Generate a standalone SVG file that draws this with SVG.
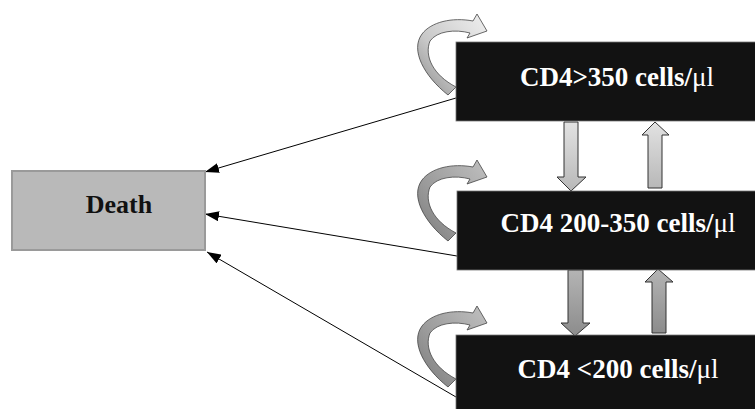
<svg xmlns="http://www.w3.org/2000/svg" width="755" height="409" viewBox="0 0 755 409">
<defs>
<style>
.box{fill:#121212;stroke:#777;stroke-width:0.8}
.death{fill:#b9b9b9;stroke:#9a9a9a;stroke-width:2}
.lbl{font-family:"Liberation Serif","Times New Roman",serif;font-weight:bold;font-size:27px;fill:#ffffff;text-anchor:middle}
.dl{font-family:"Liberation Serif","Times New Roman",serif;font-weight:bold;font-size:26px;fill:#111;text-anchor:middle}
.mu{font-weight:normal}
.conn{stroke:#000;stroke-width:1;fill:none;marker-end:url(#ah)}
.va{stroke:#333;stroke-width:1}
.ca{stroke:#444;stroke-width:0.8}
</style>
<marker id="ah" viewBox="0 0 14 10" refX="14" refY="5" markerWidth="14" markerHeight="10" markerUnits="userSpaceOnUse" orient="auto">
<path d="M0,0 L14,5 L0,10 Z" fill="#000"/>
</marker>
<linearGradient id="gc1" x1="1" y1="0" x2="0" y2="1">
<stop offset="0" stop-color="#f0f0f0"/>
<stop offset="0.6" stop-color="#c8c8c8"/>
<stop offset="1" stop-color="#8a8a8a"/>
</linearGradient>
<linearGradient id="gc2" x1="1" y1="0" x2="0" y2="1">
<stop offset="0" stop-color="#c0c0c0"/>
<stop offset="0.6" stop-color="#9a9a9a"/>
<stop offset="1" stop-color="#7a7a7a"/>
</linearGradient>
<linearGradient id="gv1" x1="0" y1="0" x2="0" y2="1">
<stop offset="0" stop-color="#e2e2e2"/>
<stop offset="1" stop-color="#b8b8b8"/>
</linearGradient>
<linearGradient id="gv2" x1="0" y1="0" x2="0" y2="1">
<stop offset="0" stop-color="#b4b4b4"/>
<stop offset="1" stop-color="#8c8c8c"/>
</linearGradient>
<path id="curl" class="ca" d="M448,95 C424,76 410,50 422,34 C431,22 452,17 473,21 L477,14 L487,31 L467,38 L470,33 C455,29 437,31 430,41 C424,56 433,75 456,87 Z"/>
</defs>

<g id="connectors">
<line class="conn" x1="456" y1="98" x2="205" y2="172"/>
<line class="conn" x1="457" y1="256" x2="205" y2="214"/>
<line class="conn" x1="456" y1="397" x2="207" y2="252"/>
<path class="va" fill="url(#gv1)" d="M564,122 L578,122 L578,177 L586,177 L571,191 L557,177 L564,177 Z"/>
<path class="va" fill="url(#gv1)" d="M648,188 L662,188 L662,135 L669,135 L655,122 L642,135 L648,135 Z"/>
<path class="va" fill="url(#gv2)" d="M568,270 L583,270 L583,323 L590,323 L575,336 L561,323 L568,323 Z"/>
<path class="va" fill="url(#gv2)" d="M652,333 L666,333 L666,282 L673,282 L658,269 L645,282 L652,282 Z"/>
<use href="#curl" fill="url(#gc1)"/>
<use href="#curl" fill="url(#gc2)" transform="translate(0,146)"/>
<use href="#curl" fill="url(#gc2)" transform="translate(0,292)"/>
</g>

<g id="death">
<rect class="death" x="12" y="171" width="193" height="79"/>
<text class="dl" x="119" y="213">Death</text>
</g>

<g id="cd4-high">
<rect class="box" x="456" y="42" width="300" height="79"/>
<text class="lbl" x="617" y="86">CD4&gt;350 cells/<tspan class="mu">μl</tspan></text>
</g>

<g id="cd4-mid">
<rect class="box" x="457" y="191" width="299" height="79"/>
<text class="lbl" x="618" y="232">CD4 200-350 cells/<tspan class="mu">μl</tspan></text>
</g>

<g id="cd4-low">
<rect class="box" x="456" y="335" width="300" height="75"/>
<text class="lbl" x="618" y="378">CD4 &lt;200 cells/<tspan class="mu">μl</tspan></text>
</g>
</svg>
